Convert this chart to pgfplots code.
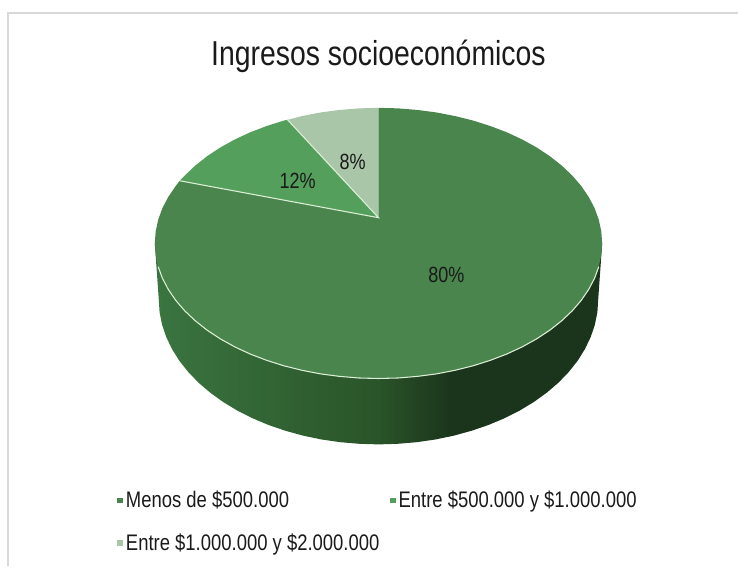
\documentclass[border=0pt]{standalone}
\usepackage{fontspec}
\setmainfont{Liberation Sans}[FakeStretch=0.82]
\usepackage{pgfplots}
\pgfplotsset{compat=1.18}
\definecolor{tajada1}{HTML}{4A854E}
\definecolor{tajada2}{HTML}{559F5C}
\definecolor{tajada3}{HTML}{AAC6A8}
\definecolor{borde}{HTML}{DCEFD6}
\definecolor{marco}{HTML}{D9D9D9}
\definecolor{texto}{HTML}{1A1A1A}
\definecolor{ladoA}{HTML}{3A7540}
\definecolor{ladoB}{HTML}{2A5429}
\definecolor{ladoC}{HTML}{1B351C}
% side of the disc, 25bp = left end and 75bp = right end of the path
\pgfdeclarehorizontalshading{ladopie}{100bp}{
  color(0bp)=(ladoA); color(25bp)=(ladoA); color(50bp)=(ladoB);
  color(58bp)=(ladoC); color(100bp)=(ladoC)}
\begin{document}
\begin{tikzpicture}
\begin{axis}[
  scale only axis,
  width=554.25pt, height=425.25pt,
  xmin=0, xmax=739, ymin=0, ymax=567,
  y dir=reverse,
  axis lines=none,
  clip=false,
  title={Ingresos socioeconómicos},
  title style={at={(0.5128,0.871)}, anchor=base, text=texto,
    font=\fontsize{26}{31}\selectfont},
  legend style={at={(0.1534,0.1425)}, anchor=north west, draw=none, fill=none,
    legend columns=2, row sep=14pt, text=texto,
    font=\fontsize{16.9}{20}\selectfont,
    /tikz/every even column/.append style={column sep=6pt}},
  legend cell align=left,
  legend image code/.code={
    \fill[#1, draw=none] (0pt,-2.2pt) rectangle (4.4pt,2.2pt);
  },
]
% keep the whole canvas as the page
\path (axis cs:0,0) rectangle (axis cs:739,567);
% frame
\addplot[marco, line width=1.5pt, forget plot] coordinates {(8,567) (8,13) (739,13)};
% side of the disc
\addplot[draw=none, shading=ladopie, forget plot] coordinates {
  (155,243.5) (159,300) (159.8,312.6) (162.3,325.2) (166.5,337.5) (172.3,349.6)
  (179.6,361.3) (188.5,372.5) (198.8,383.2) (210.5,393.2) (223.4,402.5)
  (237.6,411.1) (252.8,418.8) (269,425.6) (286,431.4) (303.8,436.3)
  (322.1,440.1) (340.8,442.8) (359.8,444.4) (379,445)
  (398.2,444.4) (417.2,442.8) (435.9,440.1) (454.2,436.3) (472,431.4)
  (489,425.6) (505.2,418.8) (520.4,411.1) (534.6,402.5) (547.5,393.2)
  (559.2,383.2) (569.5,372.5) (578.4,361.3) (585.7,349.6) (591.5,337.5)
  (595.7,325.2) (598.2,312.6) (599,300) (603,243.5)};
% 80%
\addplot[draw=none, fill=tajada1, forget plot] coordinates {
  (379,218) (379,108)
  (398.5,108.5) (417.9,110.1) (437,112.6) (455.6,116.2) (473.7,120.7)
  (491,126.2) (507.5,132.5) (523,139.7) (537.4,147.7) (550.6,156.4)
  (562.5,165.8) (573,175.75) (582,186.2) (589.5,197.2) (595.4,208.4)
  (599.6,220) (602.1,231.7) (603,243.5)
  (602.1,255.3) (599.6,267) (595.4,278.6) (589.5,289.8) (582,300.8)
  (573,311.25) (562.5,321.2) (550.6,330.6) (537.4,339.3) (523,347.3)
  (507.5,354.5) (491,360.8) (473.7,366.3) (455.6,370.8) (437,374.4)
  (417.9,376.9) (398.5,378.5) (379,379)
  (359.5,378.5) (340.1,376.9) (321,374.4) (302.4,370.8) (284.3,366.3)
  (267,360.8) (250.5,354.5) (235,347.3) (220.6,339.3) (207.4,330.6)
  (195.5,321.2) (185,311.25) (176,300.8) (168.5,289.8) (162.6,278.6)
  (158.4,267) (155.9,255.3) (155,243.5)
  (155.9,231.7) (158.4,220) (162.6,208.4) (168.5,197.2) (176,186.2) (180,181)};
% 12%
\addplot[draw=none, fill=tajada2, forget plot] coordinates {
  (379,218) (180,181) (185,175.75) (195.5,165.8) (207.4,156.4) (220.6,147.7)
  (235,139.7) (250.5,132.5) (267,126.2) (284.3,120.7) (288,120)};
% 8%
\addplot[draw=none, fill=tajada3, forget plot] coordinates {
  (379,218) (288,120) (302.4,116.2) (321,112.6) (340.1,110.1) (359.5,108.5) (379,108)};
% light edges
\addplot[borde, line width=0.8pt, forget plot] coordinates {
  (158.4,267) (162.6,278.6) (168.5,289.8) (176,300.8) (185,311.25) (195.5,321.2)
  (207.4,330.6) (220.6,339.3) (235,347.3) (250.5,354.5) (267,360.8) (284.3,366.3)
  (302.4,370.8) (321,374.4) (340.1,376.9) (359.5,378.5) (379,379)
  (398.5,378.5) (417.9,376.9) (437,374.4) (455.6,370.8) (473.7,366.3) (491,360.8)
  (507.5,354.5) (523,347.3) (537.4,339.3) (550.6,330.6) (562.5,321.2) (573,311.25)
  (582,300.8) (589.5,289.8) (595.4,278.6) (599.6,267)};
\addplot[borde, line width=0.8pt, forget plot] coordinates {(180,181) (379,218) (288,120)};
% legend
\addlegendimage{fill=tajada1}
\addlegendentry{Menos de \$500.000}
\addlegendimage{fill=tajada2}
\addlegendentry{Entre \$500.000 y \$1.000.000}
\addlegendimage{fill=tajada3}
\addlegendentry{Entre \$1.000.000 y \$2.000.000}
% percentage labels
\node[text=texto, font=\fontsize{16.5}{20}\selectfont] at (axis cs:447,275) {80\%};
\node[text=texto, font=\fontsize{16.5}{20}\selectfont] at (axis cs:298,181) {12\%};
\node[text=texto, font=\fontsize{16.5}{20}\selectfont] at (axis cs:353,162) {8\%};
\end{axis}
\end{tikzpicture}
\end{document}
